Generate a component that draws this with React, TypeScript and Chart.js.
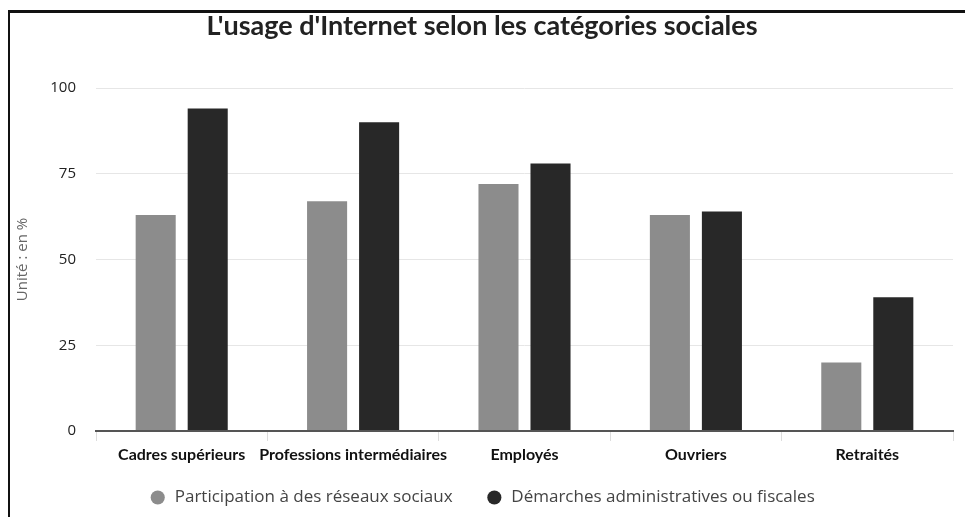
import React, { useEffect, useRef } from "react";
import { Chart, registerables } from "chart.js";

Chart.register(...registerables);

const categories = [
  "Cadres supérieurs",
  "Professions intermédiaires",
  "Employés",
  "Ouvriers",
  "Retraités",
];
const seriesNames = [
  "Participation à des réseaux sociaux",
  "Démarches administratives ou fiscales",
];
const reseauxSociaux = [63, 67, 72, 63, 20];
const demarches = [94, 90, 78, 64, 39];
const yTicks = [0, 25, 50, 75, 100];
const titleText = "L'usage d'Internet selon les catégories sociales";
const yTitle = "Unité : en %";

if (typeof document !== "undefined") {
  document.body.style.margin = "0";
}

export default function App() {
  const ref = useRef<HTMLCanvasElement | null>(null);

  useEffect(() => {
    if (!ref.current) return;
    const defaultLabels = Chart.defaults.plugins.legend.labels.generateLabels;
    const chart = new Chart(ref.current, {
      type: "bar",
      data: {
        labels: categories,
        datasets: [
          {
            label: seriesNames[0],
            data: reseauxSociaux,
            backgroundColor: "#8c8c8c",
            categoryPercentage: 0.607,
            barPercentage: 0.77,
          },
          {
            label: seriesNames[1],
            data: demarches,
            backgroundColor: "#282828",
            categoryPercentage: 0.607,
            barPercentage: 0.77,
          },
        ],
      },
      options: {
        animation: false,
        responsive: false,
        maintainAspectRatio: false,
        layout: { padding: { left: 11, right: 12, top: 0, bottom: 1 } },
        plugins: {
          title: {
            display: true,
            text: titleText,
            color: "#222",
            font: { family: "Lato", size: 27, weight: "bold" },
            padding: { top: 10, bottom: 45.6 },
          },
          legend: {
            position: "bottom",
            labels: {
              usePointStyle: true,
              pointStyle: "circle",
              boxWidth: 17,
              boxHeight: 10,
              padding: 20,
              color: "#444",
              font: { family: "Open Sans", size: 17 },
              generateLabels: (c: any) => {
                const items = defaultLabels(c);
                // widen the gap after the first legend entry
                if (items.length > 0) items[0].text = items[0].text + "\u00a0\u00a0\u00a0";
                return items;
              },
            },
          },
          tooltip: { enabled: false },
        },
        scales: {
          x: {
            grid: {
              display: true,
              drawOnChartArea: false,
              drawTicks: true,
              tickLength: 10,
              color: "#dddddd",
            },
            border: { display: true, color: "#555", width: 2 },
            ticks: {
              color: "#111",
              padding: 7.6,
              maxRotation: 0,
              minRotation: 0,
              autoSkip: false,
              font: { family: "Lato", size: 16, weight: "bold", lineHeight: 0.8 },
            },
          },
          y: {
            min: 0,
            max: 100,
            afterBuildTicks: (scale: any) => {
              scale.ticks = yTicks.map((v) => ({ value: v }));
            },
            grid: {
              drawTicks: false,
              color: (ctx: any) => (ctx.tick && ctx.tick.value === 0 ? "#555" : "#e6e6e6"),
              lineWidth: (ctx: any) => (ctx.tick && ctx.tick.value === 0 ? 2 : 1),
            },
            border: { display: false },
            ticks: {
              color: "#222",
              padding: 20,
              font: { family: "Open Sans", size: 15 },
            },
            title: {
              display: true,
              text: yTitle,
              color: "#666",
              font: { family: "Open Sans", size: 15 },
              padding: { top: 3, bottom: 0 },
            },
            afterFit: (scale: any) => {
              scale.width = 85;
            },
          },
        },
      },
    });
    return () => chart.destroy();
  }, []);

  return (
    <div style={{ position: "relative", width: 965, height: 517, background: "#fff" }}>
      <canvas ref={ref} width={965} height={517} style={{ display: "block" }} />
      <div style={{ position: "absolute", left: 8, top: 10, right: 0, height: 3, background: "#111" }} />
      <div style={{ position: "absolute", left: 8, top: 10, bottom: 0, width: 2, background: "#111" }} />
    </div>
  );
}
